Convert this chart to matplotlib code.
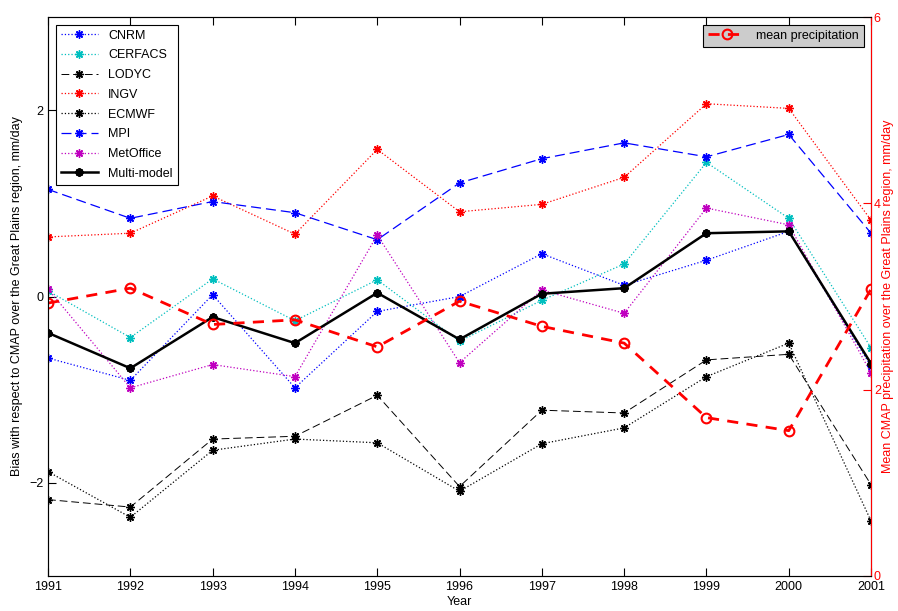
import numpy as np
import matplotlib
matplotlib.use('Agg')
import matplotlib.pyplot as plt

plt.rcParams['font.family'] = ['Liberation Sans', 'DejaVu Sans']
plt.rcParams['font.size'] = 9

# Years
years = np.arange(1991, 2002)

# Model biases (mm/day)
cnrm = [-0.66, -0.90, 0.02, -0.98, -0.16, 0.00, 0.46, 0.12, 0.39, 0.70, -0.75]
cerfacs = [0.06, -0.44, 0.19, -0.26, 0.18, -0.48, -0.04, 0.35, 1.44, 0.84, -0.55]
lodyc = [-2.18, -2.26, -1.53, -1.50, -1.06, -2.04, -1.22, -1.25, -0.68, -0.62, -2.02]
ingv = [0.64, 0.68, 1.08, 0.67, 1.58, 0.91, 0.99, 1.28, 2.07, 2.02, 0.82]
ecmwf = [-1.88, -2.37, -1.65, -1.53, -1.57, -2.09, -1.58, -1.41, -0.86, -0.50, -2.41]
mpi = [1.15, 0.84, 1.02, 0.90, 0.61, 1.22, 1.48, 1.65, 1.50, 1.74, 0.68]
metoffice = [0.08, -0.98, -0.73, -0.86, 0.66, -0.71, 0.07, -0.18, 0.95, 0.77, -0.82]
multimodel = [-0.39, -0.77, -0.22, -0.50, 0.04, -0.46, 0.03, 0.09, 0.68, 0.70, -0.72]

# Mean CMAP precipitation (mm/day)
mean_precip = [2.93, 3.09, 2.70, 2.75, 2.46, 2.95, 2.68, 2.50, 1.70, 1.56, 3.08]

ast = (8, 2, 0)  # asterisco estilo MATLAB

fig = plt.figure(figsize=(8.98, 6.11), dpi=100)
ax = fig.add_axes([0.0535, 0.0573, 0.9165, 0.9147])

ax.plot(years, cnrm, ':', color='b', marker=ast, ms=6, lw=0.9, label='CNRM')
ax.plot(years, cerfacs, ':', color='c', marker=ast, ms=6, lw=0.9, label='CERFACS')
ax.plot(years, lodyc, '--', color='k', marker=ast, ms=6, lw=0.7, dashes=(8, 4), label='LODYC')
ax.plot(years, ingv, ':', color='r', marker=ast, ms=6, lw=0.9, label='INGV')
ax.plot(years, ecmwf, ':', color='k', marker=ast, ms=6, lw=0.9, label='ECMWF')
ax.plot(years, mpi, '--', color='b', marker=ast, ms=6, lw=0.9, dashes=(8, 4), label='MPI')
ax.plot(years, metoffice, ':', color='m', marker=ast, ms=6, lw=0.9, label='MetOffice')
ax.plot(years, multimodel, '-', color='k', marker=ast, ms=6, mew=1.6, lw=1.8, label='Multi-model')

ax.set_xlim(1991, 2001)
ax.set_ylim(-3, 3)
ax.set_xticks(years)
ax.set_yticks([-2, 0, 2])
ax.set_xlabel('Year', labelpad=2)
ax.set_ylabel('Bias with respect to CMAP over the Great Plains region, mm/day', labelpad=4)
ax.tick_params(direction='in', length=6, top=True, right=True, colors='k', labelcolor='k')
for s in ['left', 'bottom', 'top']:
    ax.spines[s].set_color('0.35')

leg1 = ax.legend(loc='upper left', fancybox=False, edgecolor='k', framealpha=1,
                 handlelength=3, labelspacing=0.62, borderaxespad=0.6)
leg1.get_frame().set_linewidth(0.8)

ax2 = ax.twinx()
ax2.plot(years, mean_precip, '--', color='r', marker='o', ms=7, mfc='none', mew=1.5,
         lw=2, dashes=(4, 3), label='mean precipitation')
ax2.set_ylim(0, 6)
ax2.set_yticks([0, 2, 4, 6])
ax2.tick_params(direction='in', length=6, colors='r', labelcolor='r', pad=2)
ax2.spines['right'].set_color('r')
ax2.set_ylabel('Mean CMAP precipitation over the Great Plains region, mm/day', color='r', labelpad=1)
leg2 = ax2.legend(loc='upper right', fancybox=False, edgecolor='k', facecolor='0.8',
                  framealpha=1, handlelength=3, borderaxespad=0.6)
leg2.get_frame().set_linewidth(0.8)

fig.savefig('out.png', dpi=100)
